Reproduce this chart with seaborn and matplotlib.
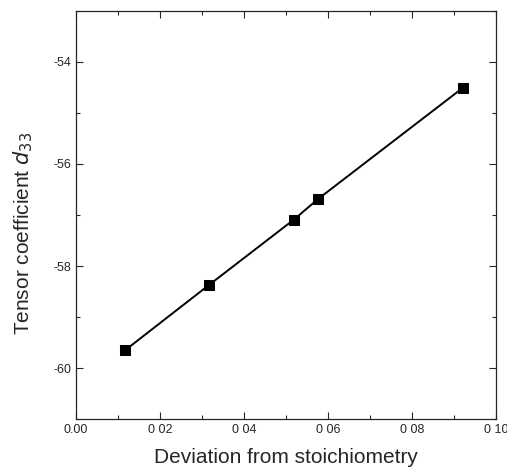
import numpy as np
import pandas as pd
import matplotlib.pyplot as plt
import seaborn as sns
from matplotlib.ticker import MultipleLocator

# data
deviation = [0.0117, 0.0317, 0.0519, 0.0576, 0.0921]
d33 = [-59.65, -58.37, -57.09, -56.69, -54.51]

x_ticks = [0.00, 0.02, 0.04, 0.06, 0.08, 0.10]
x_tick_labels = ["0.00", "0 02", "0 04", "0 06", "0 08", "0 10"]
y_ticks = [-60, -58, -56, -54]
y_tick_labels = ["-60", "-58", "-56", "-54"]

df = pd.DataFrame({"dev": deviation, "d33": d33})

sns.set_style("ticks")
plt.rcParams["font.family"] = ["Liberation Sans", "DejaVu Sans"]

fig = plt.figure(figsize=(5.07, 4.73), dpi=100)
ax = fig.add_axes([0.150, 0.114, 0.828, 0.863])

sns.lineplot(data=df, x="dev", y="d33", ax=ax, color="black", lw=1.4,
             marker="s", markersize=7, markeredgecolor="black")

ax.set_xlim(0.0, 0.10)
ax.set_ylim(-61, -53)
ax.set_xticks(x_ticks)
ax.set_xticklabels(x_tick_labels)
ax.set_yticks(y_ticks)
ax.set_yticklabels(y_tick_labels)
ax.xaxis.set_minor_locator(MultipleLocator(0.01))
ax.yaxis.set_minor_locator(MultipleLocator(1))

ax.tick_params(which="both", direction="in", top=True, right=True,
               labeltop=False, labelright=False, labelsize=9, width=0.8)
ax.tick_params(which="major", length=5)
ax.tick_params(which="minor", length=3)
for s in ax.spines.values():
    s.set_linewidth(0.9)

ax.set_xlabel("Deviation from stoichiometry", fontsize=15, labelpad=9)
ax.set_ylabel(r"Tensor coefficient $d_{33}$", fontsize=15)
# label sits a bit below the axis centre in the original
ax.yaxis.set_label_coords(-0.097, 0.455)

fig.savefig("out.png", dpi=100)
